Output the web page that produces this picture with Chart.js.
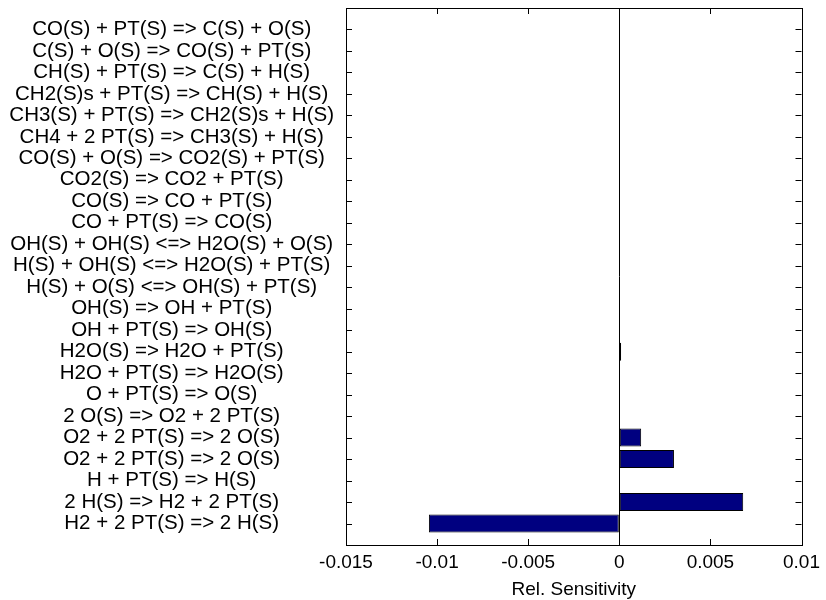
<!DOCTYPE html>
<html>
<head>
<meta charset="utf-8">
<script src="https://cdn.jsdelivr.net/npm/chart.js@4/dist/chart.umd.min.js"></script>
<style>
  html, body { margin: 0; padding: 0; background: #fff; }
  #wrap { width: 826px; height: 600px; }
</style>
</head>
<body>
<div id="wrap"><canvas id="sens"></canvas></div>
<script>
// reactions, top to bottom
const reactions = [
    "CO(S) + PT(S) => C(S) + O(S)",
    "C(S) + O(S) => CO(S) + PT(S)",
    "CH(S) + PT(S) => C(S) + H(S)",
    "CH2(S)s + PT(S) => CH(S) + H(S)",
    "CH3(S) + PT(S) => CH2(S)s + H(S)",
    "CH4 + 2 PT(S) => CH3(S) + H(S)",
    "CO(S) + O(S) => CO2(S) + PT(S)",
    "CO2(S) => CO2 + PT(S)",
    "CO(S) => CO + PT(S)",
    "CO + PT(S) => CO(S)",
    "OH(S) + OH(S) <=> H2O(S) + O(S)",
    "H(S) + OH(S) <=> H2O(S) + PT(S)",
    "H(S) + O(S) <=> OH(S) + PT(S)",
    "OH(S) => OH + PT(S)",
    "OH + PT(S) => OH(S)",
    "H2O(S) => H2O + PT(S)",
    "H2O + PT(S) => H2O(S)",
    "O + PT(S) => O(S)",
    "2 O(S) => O2 + 2 PT(S)",
    "O2 + 2 PT(S) => 2 O(S)",
    "O2 + 2 PT(S) => 2 O(S)",
    "H + PT(S) => H(S)",
    "2 H(S) => H2 + 2 PT(S)",
    "H2 + 2 PT(S) => 2 H(S)"
];
const sensitivity = [
    0, 0, 0, 0, 0, 0, 0, 0, 0, 0,
    0, 0, 0, 0, 0, 0.0001, 0, 0, 0, 0.0012,
    0.003, 0, 0.0068, -0.01045
];
const xTicks = [-0.015, -0.01, -0.005, 0, 0.005, 0.01];

const FONT = "'Liberation Sans', Arial, sans-serif";

// frame + inward tick marks, matlab style
const framePlugin = {
    id: "frame",
    afterDraw(chart) {
        const { ctx, chartArea: a, scales } = chart;
        const len = 6;
        ctx.save();
        ctx.strokeStyle = "#000";
        ctx.lineWidth = 1;
        ctx.beginPath();
        xTicks.forEach(v => {
            const x = Math.round(scales.x.getPixelForValue(v)) + 0.5;
            ctx.moveTo(x, a.top); ctx.lineTo(x, a.top + len);
            ctx.moveTo(x, a.bottom); ctx.lineTo(x, a.bottom - len);
        });
        reactions.forEach((r, i) => {
            const y = Math.round(scales.y.getPixelForValue(i + 1)) + 0.5;
            ctx.moveTo(a.left, y); ctx.lineTo(a.left + len, y);
            ctx.moveTo(a.right, y); ctx.lineTo(a.right - len, y);
        });
        ctx.stroke();
        ctx.strokeRect(Math.round(a.left) + 0.5, Math.round(a.top) + 0.5,
            Math.round(a.right - a.left), Math.round(a.bottom - a.top));
        ctx.restore();
    }
};

new Chart(document.getElementById("sens"), {
    type: "bar",
    data: {
        datasets: [{
            data: sensitivity.map((v, i) => ({ x: v, y: i + 1 })),
            backgroundColor: "#000080",
            borderColor: "#000",
            borderWidth: 1,
            borderSkipped: false,
            barPercentage: 0.84,
            categoryPercentage: 1
        }]
    },
    options: {
        indexAxis: "y",
        responsive: true,
        maintainAspectRatio: false,
        animation: false,
        layout: { padding: { top: 8, right: 20, left: 0, bottom: 0 } },
        plugins: { legend: { display: false }, tooltip: { enabled: false } },
        scales: {
            x: {
                type: "linear",
                min: -0.015,
                max: 0.01,
                afterBuildTicks: s => { s.ticks = xTicks.map(v => ({ value: v })); },
                afterFit: s => { s.height = 55; },
                border: { display: false },
                grid: {
                    drawTicks: false,
                    color: c => (c.tick && c.tick.value === 0) ? "#000" : "rgba(0,0,0,0)"
                },
                ticks: {
                    padding: 6,
                    color: "#000",
                    font: { family: FONT, size: 19 },
                    maxRotation: 0,
                    callback: v => String(+(+v).toFixed(4))
                },
                title: {
                    display: true,
                    text: "Rel. Sensitivity",
                    color: "#000",
                    font: { family: FONT, size: 19, lineHeight: 1 },
                    padding: { top: 0, bottom: 1 }
                }
            },
            y: {
                type: "linear",
                reverse: true,
                offset: false,
                min: 0,
                max: 25,
                afterBuildTicks: s => { s.ticks = reactions.map((r, i) => ({ value: i + 1 })); },
                afterFit: s => { s.width = 346; s.paddingTop = 0; s.paddingBottom = 0; },
                border: { display: false },
                grid: { display: false, drawTicks: false, offset: false },
                ticks: {
                    autoSkip: false,
                    padding: 12,
                    crossAlign: "center",
                    color: "#000",
                    font: { family: FONT, size: 20.5 },
                    callback: v => reactions[v - 1] || ""
                }
            }
        }
    },
    plugins: [framePlugin]
});
</script>
</body>
</html>
